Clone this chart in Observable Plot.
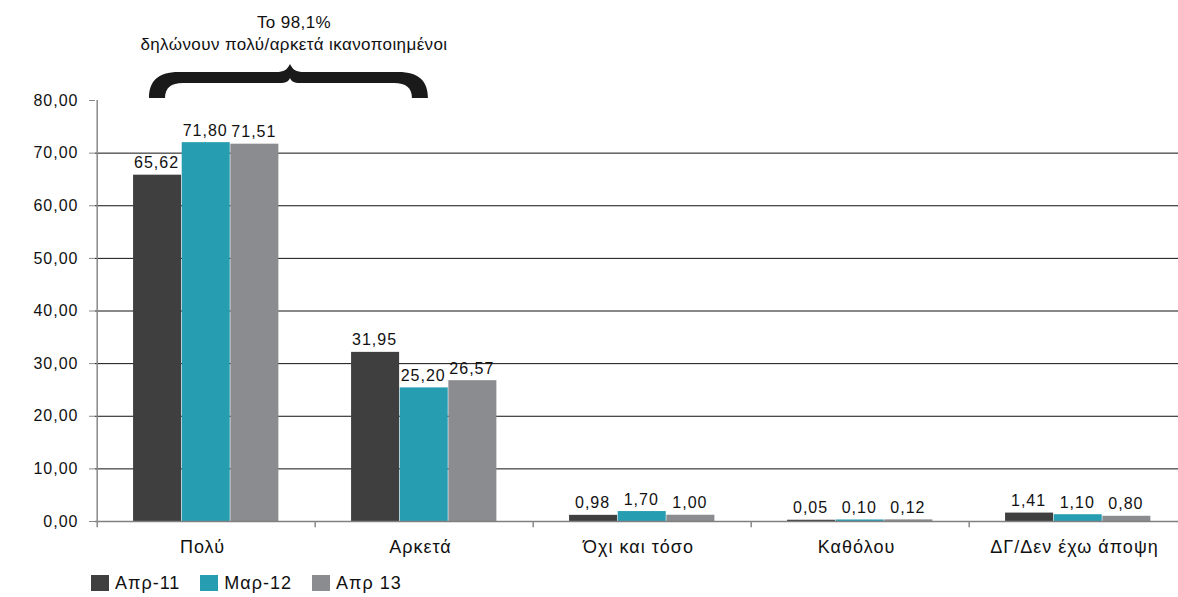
<!DOCTYPE html>
<html><head><meta charset="utf-8">
<script src="https://cdn.jsdelivr.net/npm/d3@7"></script>
<script src="https://cdn.jsdelivr.net/npm/@observablehq/plot@0.6"></script>
<style>
body{margin:0;background:#fff;font-family:"Liberation Sans",Arial,sans-serif;}
#chart svg text{letter-spacing:1px;}
#chart svg text.note{letter-spacing:0.4px;}
.legend{display:flex;align-items:center;margin-left:91px;height:30px;font-size:18px;color:#111;letter-spacing:1px;}
.legend .item{display:flex;align-items:center;margin-right:20px;}
.legend .sw{width:18px;height:16px;margin-right:6px;}
</style></head><body>
<div id="chart"></div>
<script>
const categories = ["Πολύ","Αρκετά","Όχι και τόσο","Καθόλου","ΔΓ/Δεν έχω άποψη"];
const series = ["Απρ-11","Μαρ-12","Απρ 13"];
const apr11 = [65.62,31.95,0.98,0.05,1.41];
const mar12 = [71.80,25.20,1.70,0.10,1.10];
const apr13 = [71.51,26.57,1.00,0.12,0.80];
const colors = ["#3f3f40","#279db2","#8b8c90"];
const yTicks = [0,10,20,30,40,50,60,70,80];
const noteLines = ["Το 98,1%","δηλώνουν πολύ/αρκετά ικανοποιημένοι"];

const fmt = d => d.toFixed(2).replace(".", ",");
const W = 1178, H = 568, mL = 95, mR = -10, mT = 100, mB = 47;
const step = (W - mL - mR) / categories.length;
const padFrac = 0.165, barFrac = 0.2225;
const seriesValues = [apr11, mar12, apr13];

const marks = [];
marks.push(Plot.ruleY(yTicks.filter(t => t > 0 && t < 80), {stroke: "#111", strokeWidth: 1}));
seriesValues.forEach((vals, i) => {
  const rows = categories.map((c, j) => ({cat: c, value: vals[j]}));
  const iL = step * (padFrac + i * barFrac);
  const iR = step - step * (padFrac + (i + 1) * barFrac);
  marks.push(Plot.barY(rows, {x: "cat", y: "value", fill: colors[i], insetLeft: iL, insetRight: iR, insetTop: -1}));
  marks.push(Plot.text(rows, {x: "cat", y: "value", text: d => fmt(d.value),
    dx: (padFrac + (i + 0.5) * barFrac - 0.5) * step - 1, dy: -8, lineAnchor: "bottom", fontSize: 16, fill: "#111"}));
});
marks.push(Plot.ruleY([0], {stroke: "#808080", strokeWidth: 1.5}));
marks.push(Plot.ruleX([categories[0]], {dx: -step / 2, y1: -1.2, y2: 80, stroke: "#888", strokeWidth: 1.5}));
marks.push(Plot.ruleX(categories.slice(1), {x: d => d, dx: -step / 2, y1: 0, y2: -1.2, stroke: "#888", strokeWidth: 1.5}));
marks.push(Plot.axisY({ticks: yTicks, tickFormat: fmt, tickSize: 6, tickPadding: 11, stroke: "#888", fill: "#111", fontSize: 16, label: null}));
marks.push(Plot.axisX({tickSize: 0, tickPadding: 19, fontSize: 18, fill: "#111", dx: -4, label: null}));

const chart = Plot.plot({
  width: W, height: H,
  marginLeft: mL, marginRight: mR, marginTop: mT, marginBottom: mB,
  style: {fontFamily: "'Liberation Sans', Arial, sans-serif", fontSize: "15px", background: "#fff", color: "#111"},
  x: {type: "band", domain: categories, padding: 0, label: null},
  y: {domain: [0, 80], label: null},
  marks
});

// annotation (brace + text) positioned from the chart's scales
const xs = chart.scale("x"), ys = chart.scale("y");
const x0 = xs.range[0];
const y80 = ys.apply ? ys.apply(80) : mT;
const L = x0 + 0.247 * step, R = x0 + step + 0.523 * step, M = x0 + 0.892 * step;
const g = d3.select(chart).append("g");
const yb = y80 - 2, yt = y80 - 28, yi = y80 - 17, yc = y80 - 36, yci = y80 - 22;
const d = [
  `M${L},${yb}`,
  `C${L},${yt + 10} ${L + 8},${yt} ${L + 30},${yt}`,
  `L${M - 14},${yt}`,
  `C${M - 6},${yt} ${M - 3},${yt - 2} ${M},${yc}`,
  `C${M + 3},${yt - 2} ${M + 6},${yt} ${M + 14},${yt}`,
  `L${R - 30},${yt}`,
  `C${R - 8},${yt} ${R},${yt + 10} ${R},${yb}`,
  `L${R - 16},${yb}`,
  `C${R - 16},${yi + 5} ${R - 22},${yi} ${R - 34},${yi}`,
  `L${M + 10},${yi}`,
  `C${M + 4},${yi} ${M + 1},${yi - 2} ${M},${yci}`,
  `C${M - 1},${yi - 2} ${M - 4},${yi} ${M - 10},${yi}`,
  `L${L + 34},${yi}`,
  `C${L + 22},${yi} ${L + 16},${yi + 5} ${L + 16},${yb}`,
  "Z"
].join(" ");
g.append("path").attr("d", d).attr("fill", "#1a1a1a");
g.selectAll("text.note").data(noteLines).join("text")
  .attr("class", "note")
  .attr("x", M + 4).attr("y", (t, i) => y80 - 72 + i * 22)
  .attr("text-anchor", "middle").attr("font-size", 17).attr("fill", "#111")
  .text(t => t);

document.getElementById("chart").appendChild(chart);

const leg = document.createElement("div");
leg.className = "legend";
series.forEach((s, i) => {
  const it = document.createElement("div"); it.className = "item";
  const sw = document.createElement("span"); sw.className = "sw"; sw.style.background = colors[i];
  const t = document.createElement("span"); t.textContent = s;
  it.appendChild(sw); it.appendChild(t); leg.appendChild(it);
});
document.getElementById("chart").appendChild(leg);
</script>
</body></html>
